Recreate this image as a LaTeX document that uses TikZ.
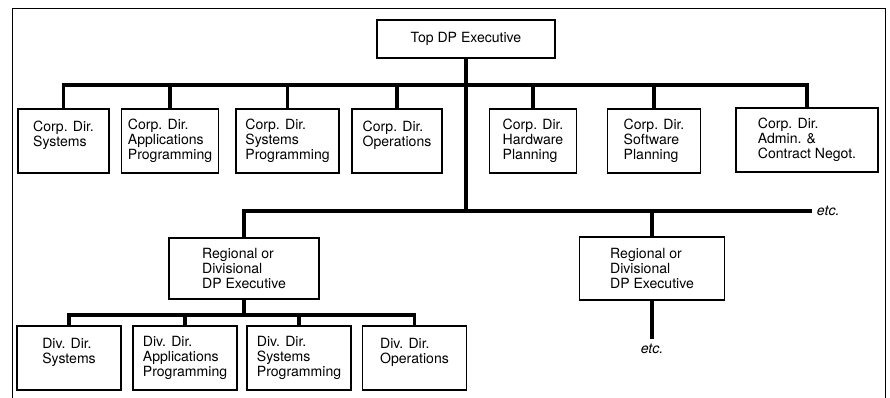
\documentclass[tikz,border=0pt]{standalone}
\usepackage{fontspec}
\setmainfont{TeX Gyre Heros}
\usepackage{tikz}

\begin{document}
\begin{tikzpicture}[
        x=0.025cm, y=-0.025cm,
        box/.style={rectangle, draw, line width=1.2pt, align=left, font=\fontsize{10}{10.7}\selectfont, minimum height=1.6cm},
        bar/.style={draw, line width=2.2pt},
        etc/.style={font=\fontsize{10}{10.7}\selectfont\itshape}
    ]
        \useasboundingbox (0,0) rectangle (890,398);
        % Frame
        \draw [line width=0.7pt] (12,398) -- (12,8) -- (885,8) -- (885,398);

        % Nodes
        \node [box, align=center, minimum width=4.45cm, minimum height=0.95cm] (top) at (466,39) {Top DP Executive};

        \node [box, minimum width=2.275cm] (csys) at (63.5,141) {Corp. Dir.\\ Systems\\ ~};
        \node [box, minimum width=2.425cm] (capp) at (170,141) {Corp. Dir.\\ Applications\\ Programming};
        \node [box, minimum width=2.575cm] (csps) at (287.5,141) {Corp. Dir.\\ Systems\\ Programming};
        \node [box, minimum width=2.25cm] (cops) at (397,141) {Corp. Dir.\\ Operations\\ ~};
        \node [box, minimum width=2.175cm] (chwp) at (533,141) {Corp. Dir.\\ Hardware\\ Planning};
        \node [box, minimum width=2.325cm] (cswp) at (654,141) {Corp. Dir.\\ Software\\ Planning};
        \node [box, minimum width=3.55cm] (cadm) at (807,140) {Corp. Dir.\\ Admin. \&\\ Contract Negot.};

        \node [box, minimum width=3.75cm, minimum height=1.525cm] (reg1) at (244,268.5) {Regional or\\ Divisional\\ DP Executive};
        \node [box, minimum width=3.625cm, minimum height=1.575cm] (reg2) at (652,268.5) {Regional or\\ Divisional\\ DP Executive};

        \node [etc, anchor=west] (etc1) at (812,211) {etc.};
        \node [etc, anchor=north] (etc2) at (652,339) {etc.};

        \node [box, minimum width=2.6cm] (dsys) at (69,358) {Div. Dir.\\ Systems\\ ~};
        \node [box, minimum width=2.6cm] (dapp) at (185,358) {Div. Dir.\\ Applications\\ Programming};
        \node [box, minimum width=2.6cm] (dsps) at (299,358) {Div. Dir.\\ Systems\\ Programming};
        \node [box, minimum width=2.6cm] (dops) at (414.5,358) {Div. Dir.\\ Operations\\ ~};

        % Bar levels
        \coordinate (cbar) at (466,85);
        \coordinate (rbar) at (466,211);
        \coordinate (dbar) at (244,315);

        % Connections
        \path [bar] (top.south) -- (top.south |- rbar);
        \path [bar] (csys.north) |- (cadm.north |- cbar) -- (cadm.north);
        \path [bar] (capp.north) -- (capp.north |- cbar);
        \path [bar] (csps.north) -- (csps.north |- cbar);
        \path [bar] (cops.north) -- (cops.north |- cbar);
        \path [bar] (chwp.north) -- (chwp.north |- cbar);
        \path [bar] (cswp.north) -- (cswp.north |- cbar);

        \path [bar] (reg1.north) |- (etc1.west);
        \path [bar] (reg2.north) -- (reg2.north |- rbar);
        \path [bar] (reg2.south) -- (etc2.north);

        \path [bar] (reg1.south) -- (reg1.south |- dbar);
        \path [bar] (dsys.north) |- (dops.north |- dbar) -- (dops.north);
        \path [bar] (dapp.north) -- (dapp.north |- dbar);
        \path [bar] (dsps.north) -- (dsps.north |- dbar);

    \end{tikzpicture}
\end{document}
